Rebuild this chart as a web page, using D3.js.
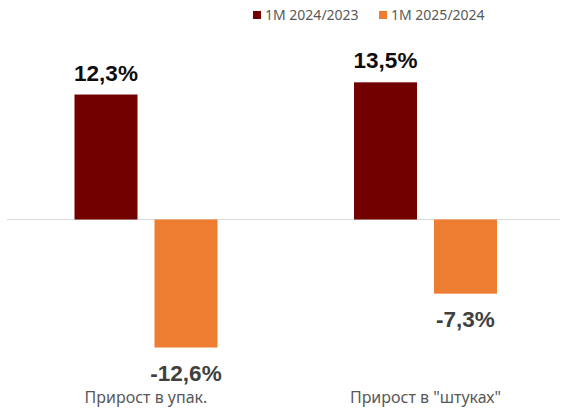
<!DOCTYPE html>
<html><head><meta charset="utf-8">
<script src="https://cdn.jsdelivr.net/npm/d3@7"></script>
<style>body{margin:0;background:#fff}svg{display:block}</style>
</head><body>
<svg id="c" width="561" height="410"></svg>
<script>
const categories = ["Прирост в упак.", "Прирост в \"штуках\""];
const seriesNames = ["1M 2024/2023", "1M 2025/2024"];
const series2024 = [12.3, 13.5];
const series2025 = [-12.6, -7.3];
const valueLabels2024 = ["12,3%", "13,5%"];
const valueLabels2025 = ["-12,6%", "-7,3%"];
const colors = ["#720000", "#ED7D31"];

const svg = d3.select("#c");
const font = "'Liberation Sans', Arial, sans-serif";
const font2 = "'Noto Sans', 'Liberation Sans', sans-serif";

const x0 = d3.scaleBand().domain(categories).range([6.25, 565.25])
  .paddingInner(0.4884).paddingOuter(0.2442);
const x1 = d3.scaleBand().domain(seriesNames).range([0, x0.bandwidth()])
  .paddingInner(0.2125).paddingOuter(0);
const y = d3.scaleLinear().domain([0, 12.45]).range([219.5, 93]);

const data = [];
categories.forEach((c, i) => {
  data.push({cat: c, s: seriesNames[0], v: series2024[i], label: valueLabels2024[i], col: colors[0]});
  data.push({cat: c, s: seriesNames[1], v: series2025[i], label: valueLabels2025[i], col: colors[1]});
});

// zero line
svg.append("line").attr("x1", 7).attr("x2", 560)
  .attr("y1", y(0)).attr("y2", y(0))
  .attr("stroke", "#d9d9d9").attr("stroke-width", 1.2);

svg.selectAll("rect.bar").data(data).enter().append("rect")
  .attr("class", "bar")
  .attr("x", d => x0(d.cat) + x1(d.s))
  .attr("width", x1.bandwidth())
  .attr("y", d => y(Math.max(0, d.v)))
  .attr("height", d => Math.abs(y(d.v) - y(0)))
  .attr("fill", d => d.col);

svg.selectAll("text.val").data(data).enter().append("text")
  .attr("class", "val")
  .attr("x", d => x0(d.cat) + x1(d.s) + x1.bandwidth() / 2)
  .attr("y", d => d.v >= 0 ? y(d.v) - 14 : y(d.v) + 33)
  .attr("text-anchor", "middle")
  .attr("font-family", font).attr("font-weight", "bold").attr("font-size", 22.5)
  .attr("fill", d => d.v >= 0 ? "#0d0d0d" : "#404040")
  .text(d => d.label);

// category labels
svg.selectAll("text.cat").data(categories).enter().append("text")
  .attr("class", "cat")
  .attr("x", d => x0(d) + x0.bandwidth() / 2)
  .attr("y", 403)
  .attr("text-anchor", "middle")
  .attr("font-family", font2).attr("font-size", 16)
  .attr("fill", "#595959")
  .text(d => d);

// legend
const legX = [253, 379];
const lg = svg.selectAll("g.leg").data(seriesNames).enter().append("g")
  .attr("class", "leg")
  .attr("transform", (d, i) => `translate(${legX[i]},0)`);
lg.append("rect").attr("x", 0).attr("y", 11).attr("width", 8).attr("height", 8)
  .attr("fill", (d, i) => colors[i]);
lg.append("text").attr("x", 12).attr("y", 19.5)
  .attr("font-family", font2).attr("font-size", 14).attr("fill", "#595959")
  .text(d => d);
</script>
</body></html>
